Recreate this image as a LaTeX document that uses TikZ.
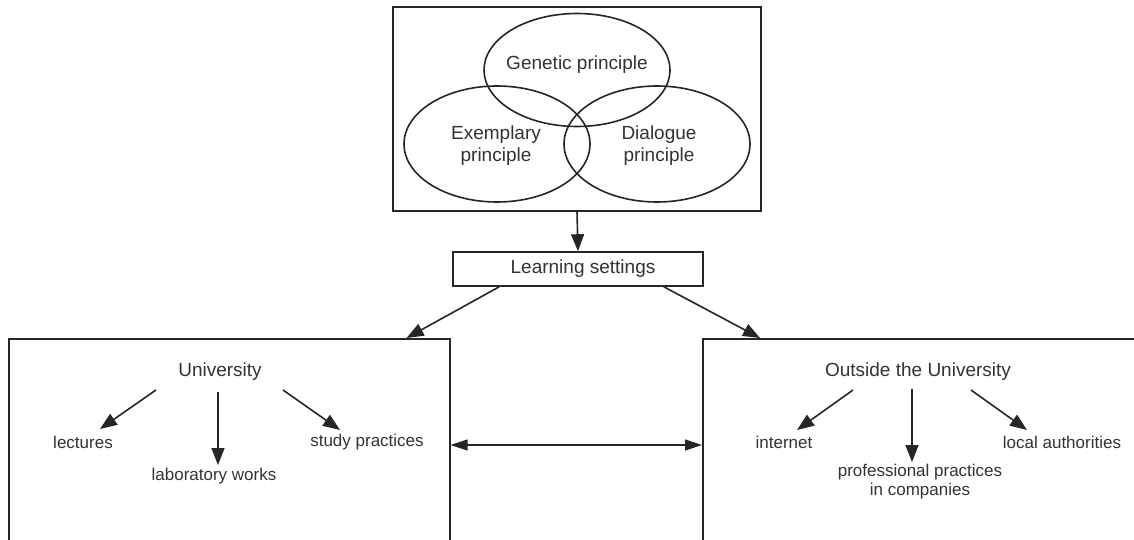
\documentclass[tikz,border=0pt]{standalone}
\usepackage{fontspec}
\setmainfont{Liberation Sans}
\usetikzlibrary{arrows.meta,shapes.geometric,calc}
\begin{document}
\begin{tikzpicture}[x=1pt,y=-1pt,
  ln/.style={line width=1.6pt,draw=black!85},
  tip/.tip={Triangle[length=17pt,width=13pt]},
  dtip/.tip={Triangle[length=17pt,width=11pt]},
  arr/.style={ln,-tip},
  darr/.style={ln,line width=1.3pt,dtip-dtip},
  big/.style={font=\fontsize{19}{22}\selectfont,text=black!80,inner sep=0pt,align=center},
  small/.style={font=\fontsize{17}{19}\selectfont,text=black!80,inner sep=0pt,align=center},
  ell/.style={ln,ellipse,minimum width=186pt,inner sep=0pt},
  box/.style={ln,rectangle,inner sep=0pt}]
\useasboundingbox[fill=white] (0,0) rectangle (1134,540);
\clip (0,0) rectangle (1134,540);
% top box with principles
\node[box,minimum width=368pt,minimum height=204pt] (top) at (577,109) {};
\node[ell,minimum height=113pt] (gen) at (577,70) {};
\node[ell,minimum height=116pt] (exe) at (497,144) {};
\node[ell,minimum height=116pt] (dia) at (657,144) {};
\node[big] (gent) at (577,65) {Genetic principle};
\node[big] (exet) at (496,146) {Exemplary\\principle};
\node[big] (diat) at (659,146) {Dialogue\\principle};
% learning settings
\node[box,minimum width=250pt,minimum height=34pt] (learn) at (578,269) {};
\node[big] (learnt) at (583,269) {Learning settings};
\draw[arr] (top.south) -- (learn.north);
% lower boxes
\node[box,anchor=north west,minimum width=441pt,minimum height=240pt] (ubox) at (8,338) {};
\node[box,anchor=north west,minimum width=460pt,minimum height=240pt] (obox) at (702,338) {};
\draw[arr] ($(learn.south west)+(47,0)$) -- ($(ubox.north east)+(-44,0)$);
\draw[arr] ($(learn.south east)+(-40,0)$) -- ($(obox.north west)+(58,0)$);
\draw[darr] ($(ubox.north east)+(0,107)$) -- ($(obox.north west)+(0,107)$);
% University
\node[big] (univ) at (220,372) {University};
\node[small] (lect) at (83,442) {lectures};
\node[small] (lab) at (214,476) {laboratory works};
\node[small] (study) at (367,442) {study practices};
\draw[arr] ($(univ)+(-64,18)$) -- ($(lect)+(17,-13)$);
\draw[arr] ($(univ)+(-2,20)$) -- ($(lab)+(4,-11)$);
\draw[arr] ($(univ)+(63,18)$) -- ($(study)+(-27,-12)$);
% Outside the University
\node[big] (out) at (918,372) {Outside the University};
\node[small] (inet) at (784,442) {internet};
\node[small] (prof) at (920,482) {professional practices\\in companies};
\node[small] (loc) at (1062,442) {local authorities};
\draw[arr] ($(out)+(-65,18)$) -- ($(inet)+(13,-12)$);
\draw[arr] ($(out)+(-6,17)$) -- ($(prof)+(-8,-20)$);
\draw[arr] ($(out)+(53,18)$) -- ($(loc)+(-35,-12)$);
\end{tikzpicture}
\end{document}
